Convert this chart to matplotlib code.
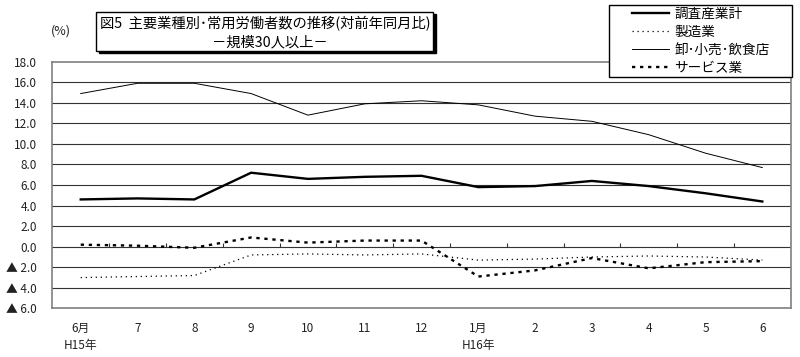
import matplotlib
matplotlib.use("Agg")
import matplotlib.pyplot as plt
from matplotlib.patches import Rectangle

plt.rcParams['font.family'] = ['Noto Sans CJK JP', 'DejaVu Sans']

# months: H15 June .. H16 June
months = ["6月\nH15年", "7", "8", "9", "10", "11", "12", "1月\nH16年", "2", "3", "4", "5", "6"]
total = [4.6, 4.7, 4.6, 7.2, 6.6, 6.8, 6.9, 5.8, 5.9, 6.4, 5.9, 5.2, 4.4]
manuf = [-3.0, -2.9, -2.8, -0.8, -0.7, -0.8, -0.7, -1.3, -1.2, -1.0, -0.9, -1.0, -1.3]
retail = [14.9, 15.9, 15.9, 14.9, 12.8, 13.9, 14.2, 13.8, 12.7, 12.2, 10.9, 9.1, 7.7]
service = [0.2, 0.1, -0.1, 0.9, 0.4, 0.6, 0.6, -2.9, -2.3, -1.1, -2.1, -1.5, -1.4]
names = ["調査産業計", "製造業", "卸･小売･飲食店", "サービス業"]
yticks = [18, 16, 14, 12, 10, 8, 6, 4, 2, 0, -2, -4, -6]
ylabels = ["18.0", "16.0", "14.0", "12.0", "10.0", "8.0", "6.0", "4.0", "2.0", "0.0",
           "▲ 2.0", "▲ 4.0", "▲ 6.0"]

fig = plt.figure(figsize=(8, 3.57), dpi=100)
ax = fig.add_axes([0.0654, 0.1361, 0.923, 0.6911])

x = list(range(len(months)))
l1, = ax.plot(x, total, color='black', lw=1.7, solid_joinstyle='miter')
l2, = ax.plot(x, manuf, color='black', lw=0.9, linestyle=(0, (1, 3)))
l3, = ax.plot(x, retail, color='black', lw=0.7)
l4, = ax.plot(x, service, color='black', lw=1.7, linestyle=(0, (1.4, 2.0)))

ax.set_xlim(-0.5, len(months) - 0.5)
ax.set_ylim(-6, 18)
ax.set_yticks(yticks)
ax.set_yticklabels(ylabels, fontsize=8.5, color='#222222')
ax.set_xticks(x)
ax.set_xticklabels(months, fontsize=8.5, color='#222222', linespacing=1.35, va='top')
ax.tick_params(axis='both', length=0)
ax.tick_params(axis='y', pad=11)
ax.tick_params(axis='x', pad=10)
for t in yticks[1:]:
    ax.axhline(t, color='#333333', lw=0.8, zorder=1)
# category ticks on the zero line
ax.vlines([i + 0.5 for i in x], 0, 0.4, color='#333333', lw=0.8)
for s in ax.spines.values():
    s.set_color('#808080')
    s.set_linewidth(1.2)

fig.text(61 / 800, 1 - 31 / 357, "(%)", fontsize=9, ha='center', va='center', color='#222222')

# title box with shadow
fig.patches.append(Rectangle((99 / 800, 1 - 53 / 357), 337 / 800, 39 / 357,
                             transform=fig.transFigure, facecolor='black', edgecolor='black', zorder=3))
fig.patches.append(Rectangle((96 / 800, 1 - 50.7 / 357), 337 / 800, 39 / 357,
                             transform=fig.transFigure, facecolor='white', edgecolor='black', lw=1, zorder=4))
fig.text(100 / 800, 1 - 24 / 357, "図5  主要業種別･常用労働者数の推移(対前年同月比)", fontsize=10.3,
         ha='left', va='center', zorder=6)
fig.text(270 / 800, 1 - 42 / 357, "－規模30人以上－", fontsize=10.3, ha='center', va='center', zorder=6)

# legend box
fig.patches.append(Rectangle((609 / 800, 1 - 76.7 / 357), 182.7 / 800, 72 / 357,
                             transform=fig.transFigure, facecolor='white', edgecolor='black', lw=1, zorder=4))
fig.legend([l1, l2, l3, l4], names, loc='upper left', bbox_to_anchor=(632 / 800, 1 - 7 / 357),
           frameon=False, fontsize=9.8, handlelength=2.7, handletextpad=0.4,
           labelspacing=0.3, borderpad=0, borderaxespad=0)

fig.savefig("out.png", dpi=100)
